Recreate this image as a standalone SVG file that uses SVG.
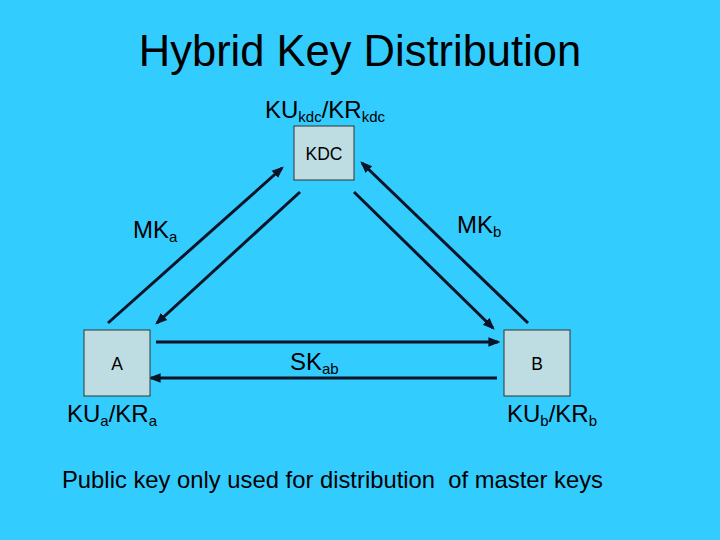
<svg xmlns="http://www.w3.org/2000/svg" width="720" height="540" viewBox="0 0 720 540">
<defs>
<style>
text{font-family:"Liberation Sans",Arial,sans-serif;fill:#000}
.box{fill:#BEDDE3;stroke:#333;stroke-width:1}
.ln{stroke:#0a1428;stroke-width:3;fill:none;marker-end:url(#ah)}
</style>
<marker id="ah" viewBox="0 0 10 10" refX="8" refY="5" markerWidth="4" markerHeight="4" orient="auto" markerUnits="strokeWidth">
<path d="M0,1 L10,5 L0,9 z" fill="#0a1428"/>
</marker>
</defs>
<rect width="720" height="540" fill="#33CCFF"/>
<text x="360" y="66" font-size="43.5" text-anchor="middle">Hybrid Key Distribution</text>
<text x="265" y="118" font-size="24">KU<tspan font-size="15" dy="4">kdc</tspan><tspan dy="-4">/KR</tspan><tspan font-size="15" dy="4">kdc</tspan></text>
<g id="connectors">
<line class="ln" x1="108" y1="323" x2="282" y2="168"/>
<line class="ln" x1="300" y1="192" x2="157" y2="323"/>
<line class="ln" x1="528" y1="323" x2="362" y2="163"/>
<line class="ln" x1="354" y1="192" x2="493" y2="328"/>
<line class="ln" x1="156" y1="342" x2="498" y2="342"/>
<line class="ln" x1="497" y1="378" x2="151" y2="378"/>
</g>
<g id="kdc">
<rect class="box" x="294" y="126" width="60" height="54"/>
<text x="324" y="160" font-size="17.5" text-anchor="middle">KDC</text>
</g>
<g id="a">
<rect class="box" x="84" y="330" width="66" height="66"/>
<text x="117" y="370" font-size="17.5" text-anchor="middle">A</text>
</g>
<g id="b">
<rect class="box" x="504" y="330" width="66" height="66"/>
<text x="537" y="370" font-size="17.5" text-anchor="middle">B</text>
</g>
<text x="133" y="238" font-size="24">MK<tspan font-size="15" dy="4">a</tspan></text>
<text x="457" y="233" font-size="24">MK<tspan font-size="15" dy="4">b</tspan></text>
<text x="290" y="370" font-size="24">SK<tspan font-size="15" dy="4">ab</tspan></text>
<text x="67" y="422" font-size="24">KU<tspan font-size="15" dy="4">a</tspan><tspan dy="-4">/KR</tspan><tspan font-size="15" dy="4">a</tspan></text>
<text x="507" y="422" font-size="24">KU<tspan font-size="15" dy="4">b</tspan><tspan dy="-4">/KR</tspan><tspan font-size="15" dy="4">b</tspan></text>
<text x="62" y="488" font-size="23.8" style="white-space:pre" xml:space="preserve">Public key only used for distribution  of master keys</text>
</svg>
